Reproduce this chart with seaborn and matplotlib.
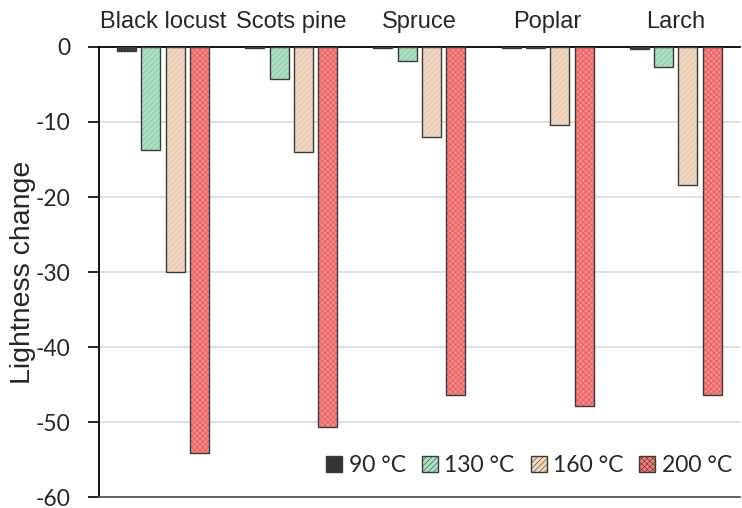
import matplotlib
matplotlib.use("Agg")
import matplotlib.pyplot as plt
from matplotlib.patches import Patch, Rectangle
import numpy as np
import pandas as pd
import seaborn as sns

# data
species = ["Black locust", "Scots pine", "Spruce", "Poplar", "Larch"]
temps = ["90 °C", "130 °C", "160 °C", "200 °C"]
t90 = [-0.6, -0.2, -0.2, -0.1, -0.3]
t130 = [-13.8, -4.3, -1.9, -0.2, -2.7]
t160 = [-30.0, -14.0, -12.0, -10.4, -18.4]
t200 = [-54.1, -50.6, -46.4, -47.8, -46.4]

fills = ["#333333", "#a9e4c2", "#f4d7bd", "#ff7b7b"]
hatch_cols = ["#555555", "#7fcfa0", "#e9c3a2", "#f25858"]
hatches = ["||||||", "//////", "//////", "xxxxxx"]

df = pd.DataFrame({
    "species": species * 4,
    "temp": sum([[t] * 5 for t in temps], []),
    "value": t90 + t130 + t160 + t200,
})

sns.set_style("white")
plt.rcParams["font.family"] = ["Liberation Sans", "DejaVu Sans"]
plt.rcParams["hatch.linewidth"] = 0.6

fig = plt.figure(figsize=(7.42, 5.08), dpi=100)
ax = fig.add_axes([0.1334, 0.0216, 0.8636, 0.8859])

# grid first
for v in range(-50, 0, 10):
    ax.axhline(v, color="#d9d9d9", lw=1.2, zorder=0)

sns.barplot(data=df, x="species", y="value", hue="temp", order=species,
            hue_order=temps, palette=fills, width=0.76, gap=0.22,
            legend=False, ax=ax, zorder=2)

outline = []
for i, cont in enumerate(ax.containers):
    for p in cont:
        p.set_hatch(hatches[i])
        p.set_edgecolor(hatch_cols[i])
        p.set_linewidth(0)
        outline.append(Rectangle(p.get_xy(), p.get_width(), p.get_height(),
                                 fill=False, ec="#3a3a3a", lw=1.0, zorder=3))
for r in outline:
    ax.add_patch(r)

ax.set_ylim(-60, 0)
ax.set_xlim(-0.5, 4.5)
ax.set_yticks(range(-60, 1, 10))
ax.set_yticklabels([str(v) for v in range(-60, 1, 10)],
                   fontsize=16.5, family=["Lato", "DejaVu Sans"])
ax.tick_params(axis="y", direction="out", length=8, width=1.2, color="black", left=True, pad=12.5)
ax.xaxis.tick_top()
ax.tick_params(axis="x", length=0, labelsize=17, pad=10)
ax.set_xlabel("")
ax.set_ylabel("Lightness change", fontsize=20.5, labelpad=0)

for s in ["right"]:
    ax.spines[s].set_visible(False)
ax.spines["left"].set_color("black")
ax.spines["left"].set_linewidth(1.3)
ax.spines["top"].set_color("black")
ax.spines["top"].set_linewidth(1.3)
ax.spines["bottom"].set_color("#555555")
ax.spines["bottom"].set_linewidth(1.3)

handles = [Patch(facecolor=fills[i], edgecolor="#3a3a3a", hatch=hatches[i], lw=1)
           for i in range(4)]
plt.rcParams["hatch.linewidth"] = 0.4
leg = ax.legend(handles, temps, loc="lower right", ncol=4, frameon=False,
                bbox_to_anchor=(1.02, 0.0), handlelength=0.7, handleheight=0.7,
                handletextpad=0.28, columnspacing=0.7,
                prop={"family": ["Lato", "DejaVu Sans"], "size": 16.5})

fig.savefig("out.png", dpi=100)
